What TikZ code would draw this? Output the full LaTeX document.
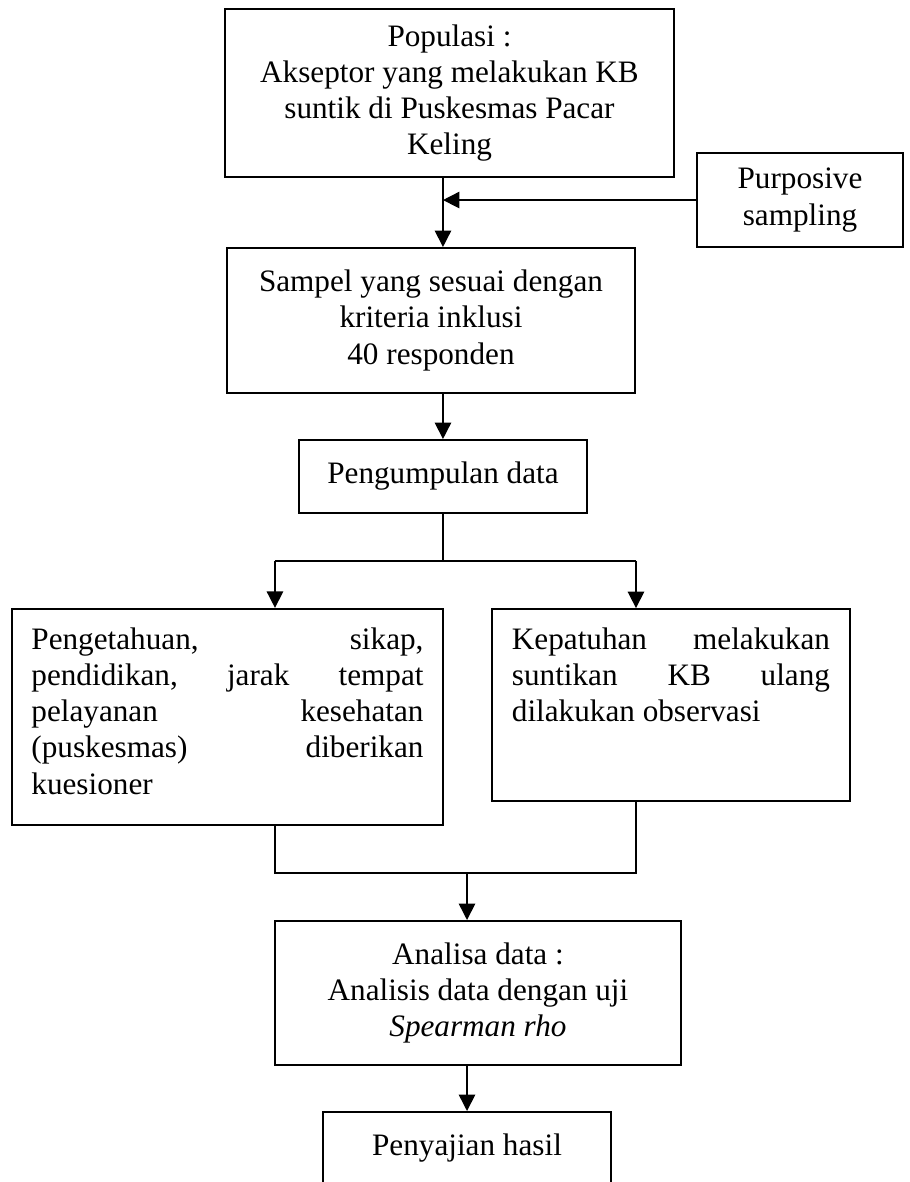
\documentclass[tikz,border=0pt]{standalone}
\usepackage{fontspec}
\setmainfont{Liberation Serif}
\usetikzlibrary{arrows.meta}

\begin{document}
\begin{tikzpicture}[box/.style={draw, rectangle, line width=0.75pt, align=center, inner sep=0pt, font=\fontsize{12pt}{13.9pt}\selectfont}, arr/.style={line width=0.6pt, -{Triangle[length=6.3pt,width=6.3pt]}}, link/.style={line width=0.6pt}]
        \useasboundingbox (0,0) rectangle (12.301,-15.978);

        \node (populasi) [box, minimum width=6.069cm, minimum height=2.271cm] at (6.076,-1.257) {Populasi :\\Akseptor yang melakukan KB\\suntik di Puskesmas Pacar\\Keling};
        \node (purposive) [box, minimum width=2.785cm, minimum height=1.271cm] at (10.814,-2.704) {Purposive\\sampling};
        \node (sampel) [box, minimum width=5.515cm, minimum height=1.960cm] at (5.826,-4.332) {Sampel yang sesuai dengan\\kriteria inklusi\\40 responden};
        \node (pengumpulan) [box, minimum width=3.893cm, minimum height=0.987cm] at (5.988,-6.441) {Pengumpulan data};
        \node (pengetahuan) [box, inner xsep=0.264cm, inner ysep=0.257cm] at (3.075,-9.692) {\parbox[t][2.41cm][t]{5.30cm}{Pengetahuan,\hfill sikap,\\pendidikan,\hfill jarak\hfill tempat\\pelayanan\hfill kesehatan\\(puskesmas)\hfill diberikan\\kuesioner}};
        \node (kepatuhan) [box, inner xsep=0.27cm, inner ysep=0.257cm] at (9.070,-9.530) {\parbox[t][2.08cm][t]{4.30cm}{Kepatuhan\hfill melakukan\\suntikan\hfill KB\hfill ulang\\dilakukan observasi}};
        \node (analisa) [box, minimum width=5.488cm, minimum height=1.947cm] at (6.461,-13.423) {Analisa data :\\Analisis data dengan uji\\\textit{Spearman rho}};
        \node (penyajian) [box, minimum width=3.893cm, minimum height=0.987cm] at (6.313,-15.525) {Penyajian hasil};

        \coordinate (splitL) at (3.717,-7.583);
        \coordinate (splitR) at (8.597,-7.583);
        \coordinate (joinL) at (3.717,-11.801);
        \coordinate (joinR) at (8.597,-11.801);

        \draw[arr] (populasi.south -| pengumpulan) -- (sampel.north -| pengumpulan);
        \draw[arr] (purposive.west) -- (purposive.west -| pengumpulan);
        \draw[arr] (sampel.south -| pengumpulan) -- (pengumpulan.north);
        \draw[link] (pengumpulan.south) -- (pengumpulan.south |- splitL);
        \draw[link] (splitL) -- (splitR);
        \draw[arr] (splitL) -- (splitL |- pengetahuan.north);
        \draw[arr] (splitR) -- (splitR |- kepatuhan.north);
        \draw[link] (joinL |- pengetahuan.south) -- (joinL) -- (joinR) -- (joinR |- kepatuhan.south);
        \draw[arr] (joinL -| penyajian) -- (analisa.north -| penyajian);
        \draw[arr] (analisa.south -| penyajian) -- (penyajian.north);
    \end{tikzpicture}
\end{document}
